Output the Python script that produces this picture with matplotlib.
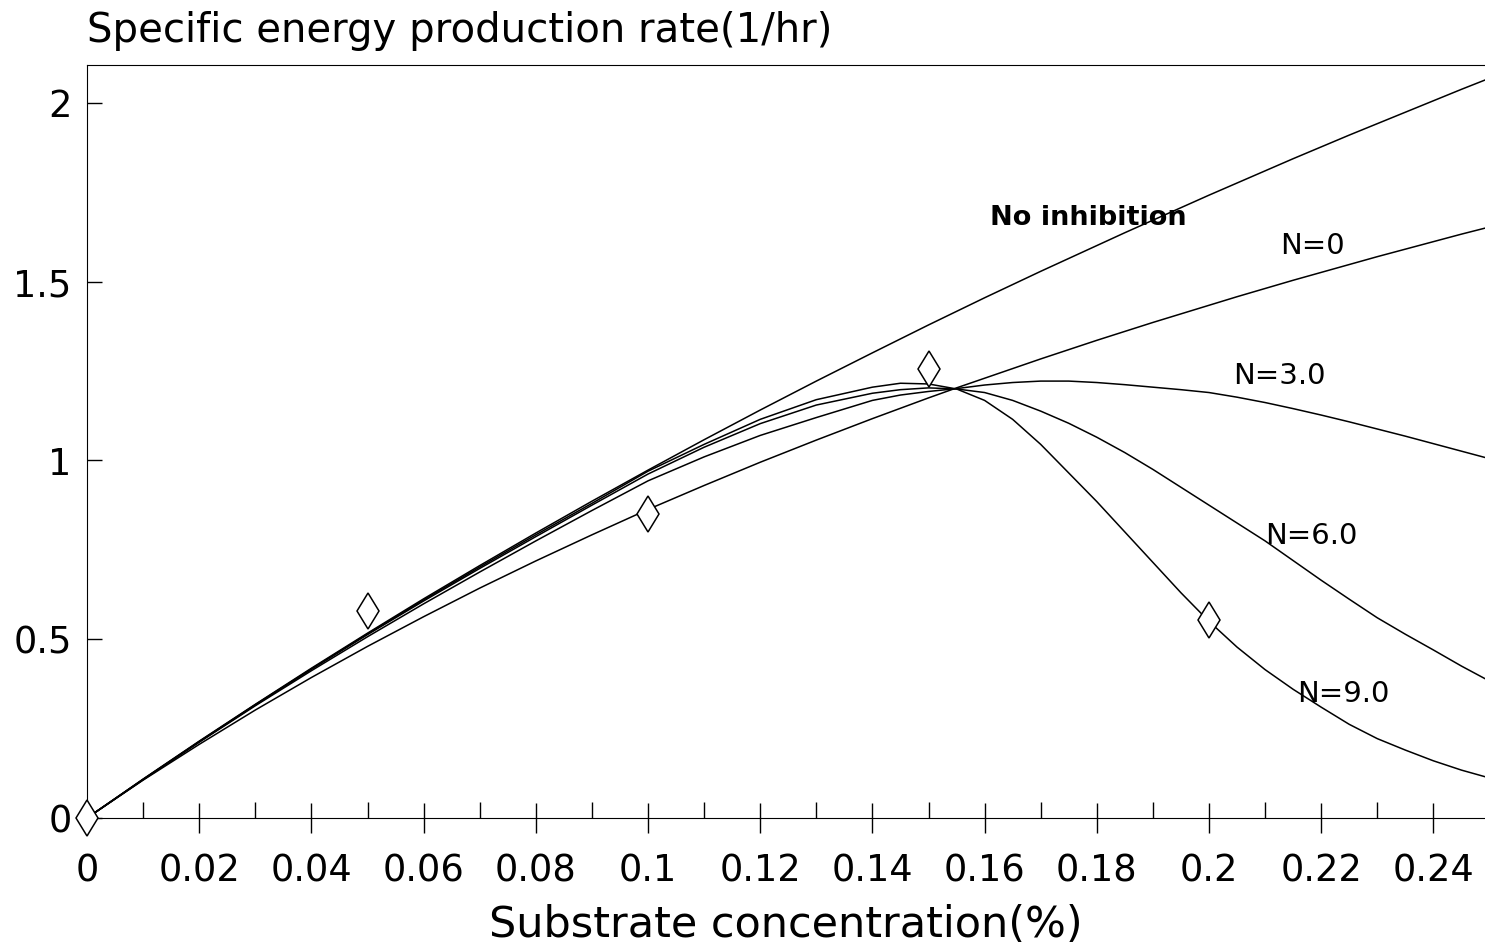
import matplotlib.pyplot as plt
from matplotlib.ticker import MultipleLocator, FuncFormatter

# substrate concentration (%) grid shared by all model curves
conc = [0, 0.01, 0.02, 0.03, 0.04, 0.05, 0.06, 0.07, 0.08, 0.09, 0.10,
        0.11, 0.12, 0.13, 0.14, 0.145, 0.15, 0.155, 0.16, 0.165, 0.17,
        0.175, 0.18, 0.185, 0.19, 0.195, 0.20, 0.205, 0.21, 0.215, 0.22,
        0.225, 0.23, 0.235, 0.24, 0.245, 0.25]

no_inhibition = [0, 0.109, 0.215, 0.318, 0.419, 0.517, 0.613, 0.706, 0.797,
                 0.886, 0.973, 1.058, 1.141, 1.222, 1.301, 1.340, 1.379,
                 1.417, 1.455, 1.492, 1.529, 1.565, 1.601, 1.637, 1.672,
                 1.707, 1.742, 1.776, 1.810, 1.844, 1.877, 1.910, 1.942,
                 1.974, 2.006, 2.038, 2.069]

n_0 = [0, 0.106, 0.206, 0.302, 0.393, 0.480, 0.563, 0.643, 0.719, 0.792,
       0.863, 0.930, 0.995, 1.057, 1.117, 1.146, 1.175, 1.203, 1.230, 1.257,
       1.284, 1.310, 1.336, 1.361, 1.386, 1.410, 1.434, 1.458, 1.481, 1.504,
       1.526, 1.548, 1.570, 1.591, 1.612, 1.633, 1.653]

n_3 = [0, 0.107, 0.212, 0.314, 0.412, 0.507, 0.599, 0.688, 0.775, 0.860,
       0.943, 1.010, 1.070, 1.120, 1.168, 1.183, 1.193, 1.201, 1.211, 1.218,
       1.222, 1.222, 1.218, 1.212, 1.205, 1.198, 1.190, 1.177, 1.162, 1.145,
       1.127, 1.108, 1.088, 1.068, 1.047, 1.026, 1.005]

n_6 = [0, 0.108, 0.213, 0.316, 0.416, 0.513, 0.607, 0.698, 0.787, 0.875,
       0.962, 1.037, 1.103, 1.155, 1.188, 1.198, 1.203, 1.200, 1.190, 1.168,
       1.138, 1.104, 1.065, 1.022, 0.975, 0.925, 0.875, 0.825, 0.775, 0.720,
       0.665, 0.612, 0.560, 0.514, 0.470, 0.425, 0.383]

n_9 = [0, 0.108, 0.214, 0.317, 0.417, 0.515, 0.610, 0.702, 0.792, 0.880,
       0.970, 1.045, 1.115, 1.170, 1.205, 1.216, 1.214, 1.200, 1.168, 1.115,
       1.045, 0.965, 0.885, 0.800, 0.715, 0.630, 0.550, 0.478, 0.415, 0.360,
       0.310, 0.262, 0.222, 0.190, 0.160, 0.134, 0.112]

# measured points
obs_conc = [0, 0.05, 0.10, 0.15, 0.20]
obs_rate = [0, 0.58, 0.85, 1.255, 0.553]

plt.rcParams["font.family"] = "DejaVu Sans"

fig = plt.figure(figsize=(14.85, 9.52), dpi=100)
ax = fig.add_axes([0.0586, 0.1229, 0.9414, 0.8088])

for series in [no_inhibition, n_0, n_3, n_6, n_9]:
    ax.plot(conc, series, color="black", linewidth=1.1)

ax.plot(
    obs_conc,
    obs_rate,
    linestyle="none",
    marker="d",
    markersize=18,
    markerfacecolor="white",
    markeredgecolor="black",
    markeredgewidth=1.1,
    clip_on=False,
    zorder=5
)

ax.set_xlim(0, 0.2492)
ax.set_ylim(-0.0475, 2.106)

ax.spines["right"].set_visible(False)
ax.spines["bottom"].set_position(("data", 0))

ax.xaxis.set_major_locator(MultipleLocator(0.02))
ax.xaxis.set_minor_locator(MultipleLocator(0.01))
ax.yaxis.set_major_locator(MultipleLocator(0.5))

fmt = FuncFormatter(lambda v, pos: "%g" % round(v, 3))
ax.xaxis.set_major_formatter(fmt)
ax.yaxis.set_major_formatter(fmt)

ax.tick_params(axis="x", which="major", direction="inout", length=22,
               width=1, labelsize=26.5, pad=14)
ax.tick_params(axis="x", which="minor", direction="in", length=11.5, width=1)
ax.tick_params(axis="y", direction="in", length=11, width=1,
               labelsize=26.5, pad=11)

labels = [
    ("No inhibition", 0.1784, 1.678, "bold", 19.5),
    ("N=0", 0.2184, 1.600, "normal", 21),
    ("N=3.0", 0.2125, 1.236, "normal", 21),
    ("N=6.0", 0.2182, 0.789, "normal", 21),
    ("N=9.0", 0.2239, 0.347, "normal", 21),
]
for text, x, y, weight, size in labels:
    ax.text(x, y, text, ha="center", va="center",
            fontsize=size, fontweight=weight)

fig.text(0.0586, 1 - 31 / 952, "Specific energy production rate(1/hr)",
         ha="left", va="center", fontsize=29)
fig.text(0.5293, 1 - 925 / 952, "Substrate concentration(%)",
         ha="center", va="center", fontsize=31)

plt.savefig("out.png", dpi=100)
plt.close()
